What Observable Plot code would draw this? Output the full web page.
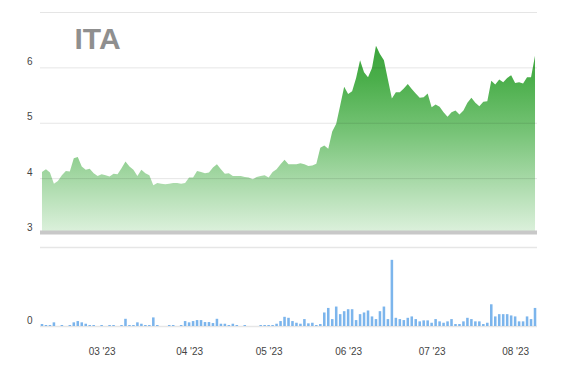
<!DOCTYPE html>
<html>
<head>
<meta charset="utf-8">
<script src="https://cdn.jsdelivr.net/npm/d3@7"></script>
<script src="https://cdn.jsdelivr.net/npm/@observablehq/plot@0.6"></script>
<style>
  html, body { margin: 0; padding: 0; background: #fff; }
  #chart { position: relative; width: 561px; height: 366px; overflow: hidden; }
  #chart svg { position: absolute; left: 0; }
</style>
</head>
<body>
<div id="chart"></div>
<script>
const title = "ITA";
const prices = [
  4.11,4.16,4.10,3.90,3.95,4.05,4.13,4.12,4.36,4.38,
  4.21,4.15,4.17,4.09,4.04,4.07,4.05,4.03,4.08,4.07,
  4.18,4.30,4.21,4.15,4.04,4.15,4.09,4.05,3.87,3.91,
  3.90,3.89,3.90,3.91,3.91,3.90,3.91,4.01,4.01,4.13,
  4.11,4.09,4.10,4.19,4.25,4.16,4.08,4.09,4.04,4.04,
  4.04,4.02,4.01,3.98,4.02,4.04,4.05,4.01,4.11,4.16,
  4.25,4.33,4.25,4.25,4.25,4.27,4.25,4.22,4.23,4.26,
  4.55,4.59,4.53,4.84,4.98,5.31,5.65,5.52,5.57,5.81,
  6.13,5.91,5.82,5.99,6.39,6.24,6.13,5.78,5.44,5.55,
  5.55,5.62,5.70,5.61,5.53,5.45,5.46,5.53,5.28,5.33,
  5.29,5.19,5.11,5.19,5.22,5.15,5.22,5.36,5.45,5.36,
  5.30,5.38,5.39,5.76,5.69,5.78,5.73,5.81,5.86,5.72,
  5.73,5.71,5.82,5.82,6.21
];
const volumes = [
  20,10,10,37,0,10,0,10,37,50,37,23,10,10,0,10,0,10,10,0,
  10,73,10,10,37,23,10,10,87,10,0,0,10,10,0,10,50,37,50,60,
  60,40,40,30,73,23,23,10,23,10,0,10,0,0,0,10,10,10,10,23,
  50,93,83,50,33,23,70,27,33,10,20,137,183,70,197,120,150,170,170,60,
  120,137,157,97,70,150,197,70,670,83,70,60,83,97,70,47,57,57,33,70,
  47,33,47,70,20,20,47,83,70,47,47,20,33,220,97,120,120,120,107,97,
  47,47,97,70,183
];
const priceGridTicks = [4, 5, 6, 7];
const priceLabelTicks = [3, 4, 5, 6];
const volumeGridTicks = [0, 800];
const volumeLabelTicks = [0];
const monthTickIndex = [15, 37, 57, 77, 98, 119];
const monthTickLabels = ["03 '23", "04 '23", "05 '23", "06 '23", "07 '23", "08 '23"];

const rows = prices.map((p, i) => ({i, price: p, volume: volumes[i]}));
const n = prices.length;
const font = "'Liberation Sans', Arial, Helvetica, sans-serif";

const priceChart = Plot.plot({
  width: 561, height: 240,
  marginLeft: 40, marginRight: 24, marginTop: 12, marginBottom: 6,
  x: {domain: [-0.5, n - 0.5], range: [40, 537], axis: null},
  y: {domain: [3, 7], range: [233.5, 12]},
  style: {fontFamily: font, fontSize: "10px", color: "#444", background: "transparent"},
  marks: [
    Plot.areaY(rows, {x: "i", y1: 3, y2: "price", fill: "url(#priceGrad)"}),
    Plot.ruleY(priceGridTicks, {stroke: "#000", strokeOpacity: 0.1}),
    Plot.ruleY([3], {stroke: "#c8c8c8", strokeWidth: 4, dy: -1.5}),
    Plot.axisY({ticks: priceLabelTicks, tickFormat: d => String(d), tickSize: 0, tickPadding: 8, dy: -6, label: null}),
    Plot.text([title], {frameAnchor: "top-left", dx: 34, dy: 15, lineAnchor: "top", textAnchor: "start",
      fontSize: 30, fontWeight: "bold", fill: "#8f8f8f"})
  ]
});

// gradient for the price area
const ns = "http://www.w3.org/2000/svg";
const defs = document.createElementNS(ns, "defs");
const grad = document.createElementNS(ns, "linearGradient");
grad.setAttribute("id", "priceGrad");
grad.setAttribute("gradientUnits", "userSpaceOnUse");
grad.setAttribute("x1", "0"); grad.setAttribute("x2", "0");
grad.setAttribute("y1", "12"); grad.setAttribute("y2", "233");
[[0, "#2a9a2a"], [0.3, "#4aae4a"], [0.55, "#78c478"], [0.75, "#a5d8a5"], [1, "#ddf1dd"]].forEach(([o, c]) => {
  const s = document.createElementNS(ns, "stop");
  s.setAttribute("offset", o);
  s.setAttribute("stop-color", c);
  grad.appendChild(s);
});
defs.appendChild(grad);
priceChart.insertBefore(defs, priceChart.firstChild);
priceChart.style.top = "0px";

const volumeChart = Plot.plot({
  width: 561, height: 126,
  marginLeft: 40, marginRight: 24, marginTop: 7, marginBottom: 40,
  x: {domain: [-0.5, n - 0.5], range: [40, 537]},
  y: {domain: [0, 800], range: [86, 7]},
  style: {fontFamily: font, fontSize: "10px", color: "#444", background: "transparent"},
  marks: [
    Plot.ruleY(volumeGridTicks, {stroke: "#e6e6e6", strokeWidth: 1.5}),
    Plot.rectY(rows, {x1: d => d.i - 0.32, x2: d => d.i + 0.32, y1: 0, y2: "volume", fill: "#7cb5ec"}),
    Plot.axisY({ticks: volumeLabelTicks, tickFormat: d => String(d), tickSize: 0, tickPadding: 8, dy: -6, label: null}),
    Plot.axisX({ticks: monthTickIndex, tickFormat: d => monthTickLabels[monthTickIndex.indexOf(d)],
      tickSize: 0, tickPadding: 21, label: null})
  ]
});
volumeChart.style.top = "240px";

const chart = document.getElementById("chart");
chart.appendChild(priceChart);
chart.appendChild(volumeChart);
</script>
</body>
</html>
